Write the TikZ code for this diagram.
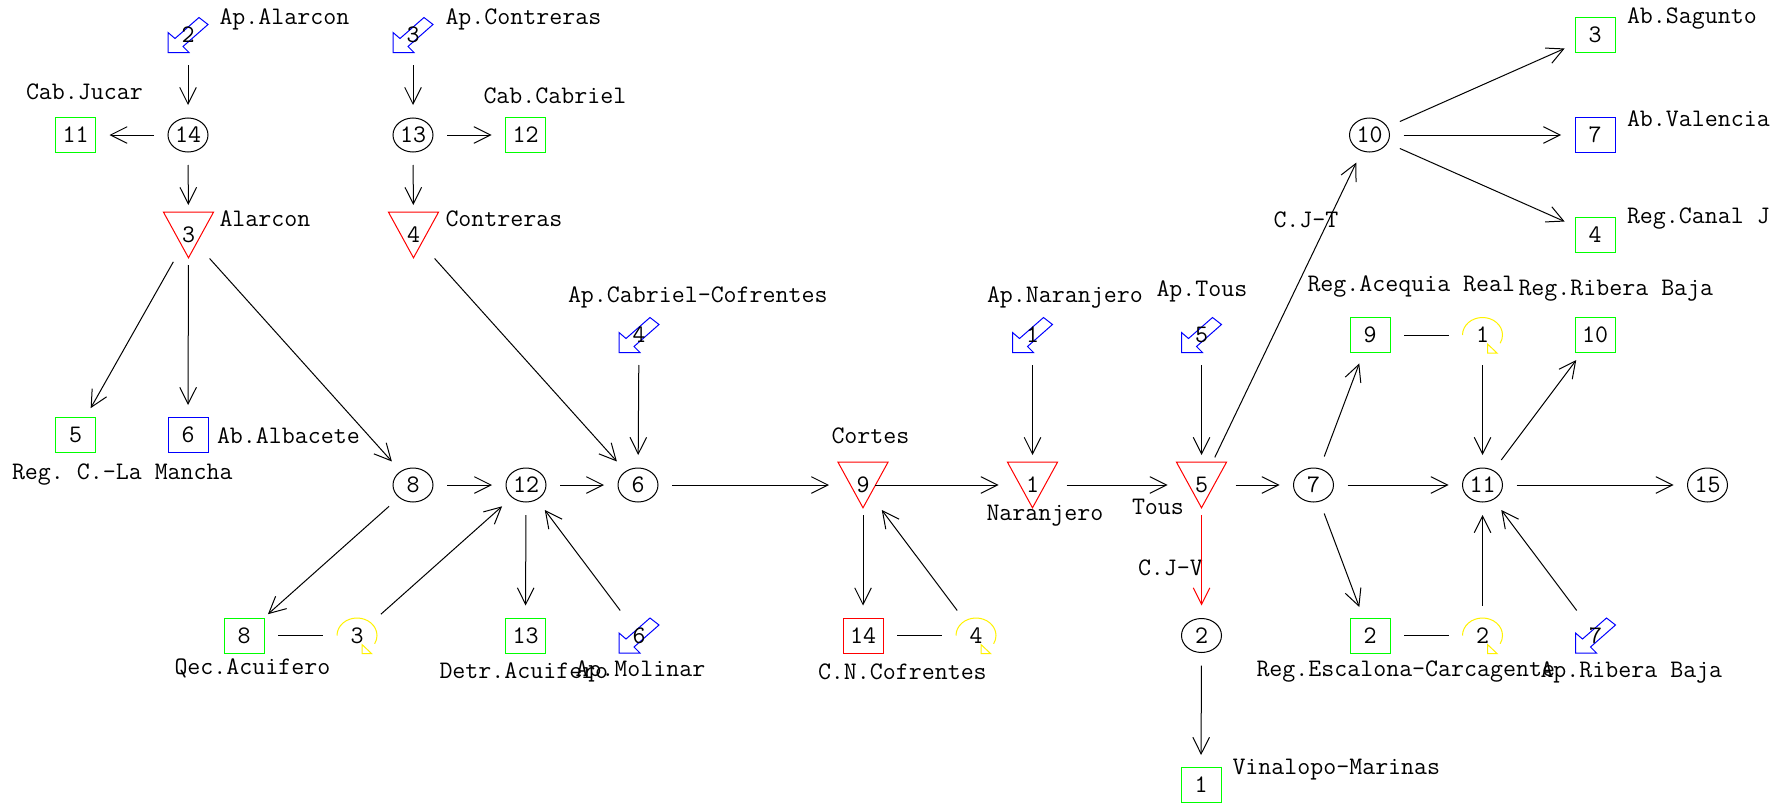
\documentclass[tikz,border=0pt]{standalone}
\usepackage{fontspec}
\usetikzlibrary{arrows.meta,shapes.geometric}
\frenchspacing

\tikzset{
  site/.style={ellipse, minimum width=33.5pt, minimum height=29.5pt, inner sep=0pt},
  junction/.style={site, append after command={\pgfextra{\draw (\tikzlastnode.center) ellipse [x radius=20, y radius=17];}}},
  demand/.style={site, append after command={\pgfextra{\draw[#1] (\tikzlastnode.center) +(-20,-17.5) rectangle +(20,17.5);}}},
  demand/.default=green,
  reservoir/.style={site, append after command={\pgfextra{\draw[red] (\tikzlastnode.center) +(-25,-22.8) -- +(25,-22.8) -- +(0,22.8) -- cycle;}}},
  inflow/.style={site, append after command={\pgfextra{\draw[blue] (\tikzlastnode.center) +(-20,17.5) -- +(1,17.5) -- +(-5,11.5) -- +(20,-10.5) -- +(11,-17.5) -- +(-13,3.5) -- +(-20,-2.5) -- cycle;}}},
  pump/.style={site, append after command={\pgfextra{\draw[yellow] (\tikzlastnode.center) +(-20,0) arc [start angle=180, end angle=388, x radius=20, y radius=17.5] (\tikzlastnode.center) +(5,9) -- +(5,18) -- +(14.5,18) -- cycle;}}},
  tag/.style={anchor=west, inner sep=0pt}
}

\begin{document}
\begin{tikzpicture}[x=0.5pt, y=-0.5pt, line width=0.5pt, >={Straight Barb[length=8.3pt,width=8.3pt]}, font=\ttfamily\fontsize{12.6}{15}\selectfont]
        \useasboundingbox (0,0) rectangle (1785,803);

        \node[inflow] (a2) at (188, 35) {2};
        \node[inflow] (a3) at (413, 35) {3};
        \node[inflow] (a4) at (639, 335) {4};
        \node[inflow] (a1) at (1032.5, 335) {1};
        \node[inflow] (a5) at (1201.5, 335) {5};
        \node[inflow] (a6) at (639, 635.5) {6};
        \node[inflow] (a7) at (1595.5, 635.5) {7};

        \node[junction] (n14) at (188, 135) {14};
        \node[junction] (n13) at (413, 135) {13};
        \node[junction] (n8) at (413, 485) {8};
        \node[junction] (n12) at (526, 485) {12};
        \node[junction] (n6) at (638, 485) {6};
        \node[junction] (n7) at (1313.5, 485) {7};
        \node[junction] (n11) at (1482.5, 485) {11};
        \node[junction] (n15) at (1707.5, 485) {15};
        \node[junction] (n10) at (1369.5, 135) {10};
        \node[junction] (n2) at (1201.5, 635.5) {2};

        \node[reservoir] (r3) at (188.5, 235) {3};
        \node[reservoir] (r4) at (413.5, 235) {4};
        \node[reservoir] (r9) at (863, 485) {9};
        \node[reservoir] (r1) at (1032.5, 485) {1};
        \node[reservoir] (r5) at (1201.5, 485) {5};

        \node[demand] (d11) at (75.5, 135) {11};
        \node[demand] (d12) at (525.5, 135) {12};
        \node[demand] (d5) at (75.5, 435) {5};
        \node[demand=blue] (d6) at (188, 435) {6};
        \node[demand] (d8) at (244, 635.5) {8};
        \node[demand] (d13) at (525.5, 635.5) {13};
        \node[demand=red] (d14) at (863, 635.5) {14};
        \node[demand] (d3) at (1595, 35) {3};
        \node[demand=blue] (d7) at (1595, 135) {7};
        \node[demand] (d4) at (1595, 235) {4};
        \node[demand] (d9) at (1370, 335) {9};
        \node[demand] (d10) at (1595, 335) {10};
        \node[demand] (d2) at (1370, 635.5) {2};
        \node[demand] (d1) at (1201, 785) {1};

        \node[pump] (b3) at (357, 635.5) {3};
        \node[pump] (b4) at (976, 635.5) {4};
        \node[pump] (b1) at (1482.5, 335) {1};
        \node[pump] (b2) at (1482.5, 635.5) {2};

        \node[tag] (tApAlarcon) at (219, 19) {Ap.Alarcon};
        \node[tag] (tApContreras) at (445, 19) {Ap.Contreras};
        \node[tag] (tCabJucar) at (25.5, 92) {Cab.Jucar};
        \node[tag] (tCabCabriel) at (483, 95.5) {Cab.Cabriel};
        \node[tag] (tAlarcon) at (219, 218.5) {Alarcon};
        \node[tag] (tContreras) at (445, 218.5) {Contreras};
        \node[tag] (tAbAlbacete) at (216.5, 436) {Ab.Albacete};
        \node[tag] (tRegMancha) at (11.5, 475) {Reg. C.-La Mancha};
        \node[tag] (tQecAcuifero) at (174, 668) {Qec.Acuifero};
        \node[tag] (tDetrAcuifero) at (439, 671) {Detr.Acuifero};
        \node[tag] (tApMolinar) at (575, 671) {Ap.Molinar};
        \node[tag] (tApCabriel) at (567.5, 297) {Ap.Cabriel-Cofrentes};
        \node[tag] (tCortes) at (831, 435.5) {Cortes};
        \node[tag] (tCNCofrentes) at (817.5, 672) {C.N.Cofrentes};
        \node[tag] (tApNaranjero) at (986.5, 297) {Ap.Naranjero};
        \node[tag] (tNaranjero) at (986, 516) {Naranjero};
        \node[tag] (tApTous) at (1156, 291) {Ap.Tous};
        \node[tag] (tTous) at (1131.5, 507) {Tous};
        \node[tag] (tCJV) at (1137.5, 568) {C.J-V};
        \node[tag] (tCJT) at (1273, 220) {C.J-T};
        \node[tag] (tRegAcequia) at (1307, 286.5) {Reg.Acequia Real};
        \node[tag] (tRegRibera) at (1518, 291) {Reg.Ribera Baja};
        \node[tag] (tRegEscalona) at (1256, 672) {Reg.Escalona-Carcagente};
        \node[tag] (tApRibera) at (1540, 672) {Ap.Ribera Baja};
        \node[tag] (tVinalopo) at (1232, 769.5) {Vinalopo-Marinas};
        \node[tag] (tAbSagunto) at (1626.5, 19) {Ab.Sagunto};
        \node[tag] (tAbValencia) at (1626.5, 119) {Ab.Valencia};
        \node[tag] (tRegCanal) at (1626.5, 218.5) {Reg.Canal J};

        \draw [->] (a2) -- (n14);
        \draw [->] (n14) -- (d11);
        \draw [->] (n14) -- (r3);
        \draw [->] (a3) -- (n13);
        \draw [->] (n13) -- (d12);
        \draw [->] (n13) -- (r4);
        \draw [->] (r3) -- (d5);
        \draw [->] (r3) -- (d6);
        \draw [->] (r3) -- (n8);
        \draw [->] (r4) -- (n6);
        \draw [->] (n8) -- (n12);
        \draw [->] (n12) -- (n6);
        \draw [->] (n8) -- (d8);
        \draw (d8) -- (b3);
        \draw [->] (b3) -- (n12);
        \draw [->] (n12) -- (d13);
        \draw [->] (a6) -- (n12);
        \draw [->] (a4) -- (n6);
        \draw [->] (n6) -- (r9);
        \draw [->] (r9) -- (d14);
        \draw (d14) -- (b4);
        \draw [->] (b4) -- (r9);
        \draw [->] ([xshift=6pt]r9.center) -- (r1);
        \draw [->] (a1) -- (r1);
        \draw [->] (r1) -- (r5);
        \draw [->] (a5) -- (r5);
        \draw [->] (r5) -- (n10);
        \draw [->] (n10) -- (d3);
        \draw [->] (n10) -- (d7);
        \draw [->] (n10) -- (d4);
        \draw [->] (r5) -- (n7);
        \draw [->, red] (r5) -- (n2);
        \draw [->] (n2) -- (d1);
        \draw [->] (n7) -- (d9);
        \draw [->] (n7) -- (d2);
        \draw [->] (n7) -- (n11);
        \draw (d9) -- (b1);
        \draw [->] (b1) -- (n11);
        \draw (d2) -- (b2);
        \draw [->] (b2) -- (n11);
        \draw [->] (n11) -- (d10);
        \draw [->] (n11) -- (n15);
        \draw [->] (a7) -- (n11);
\end{tikzpicture}
\end{document}
